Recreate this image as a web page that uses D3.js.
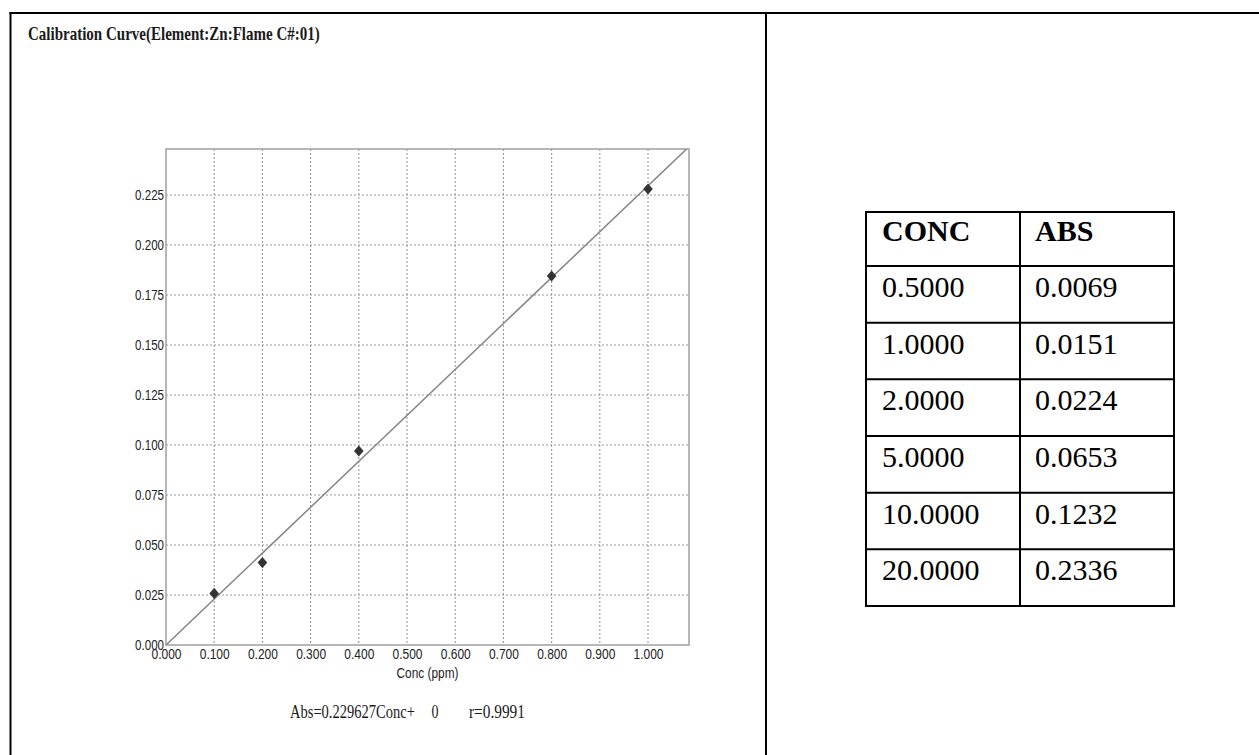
<!DOCTYPE html>
<html>
<head>
<meta charset="utf-8">
<script src="https://cdn.jsdelivr.net/npm/d3@7"></script>
<style>
html,body{margin:0;padding:0;background:#fff;}
svg{display:block;}
</style>
</head>
<body>
<svg id="chart" width="1259" height="755"></svg>
<script>
// ---- data ----
const title = "Calibration Curve(Element:Zn:Flame  C#:01)";
const pointConc = [0.1, 0.2, 0.4, 0.8, 1.0];
const pointAbs = [0.0258, 0.0412, 0.097, 0.1845, 0.228];
const slope = 0.229627;
const intercept = 0;
const xTicks = [0, 0.1, 0.2, 0.3, 0.4, 0.5, 0.6, 0.7, 0.8, 0.9, 1.0];
const yTicks = [0, 0.025, 0.05, 0.075, 0.1, 0.125, 0.15, 0.175, 0.2, 0.225];
const xLabel = "Conc (ppm)";
const eqLeft = "Abs=0.229627Conc+";
const eqIntercept = "0";
const eqR = "r=0.9991";
const tableHeader = ["CONC", "ABS"];
const tableConc = ["0.5000", "1.0000", "2.0000", "5.0000", "10.0000", "20.0000"];
const tableAbs = ["0.0069", "0.0151", "0.0224", "0.0653", "0.1232", "0.2336"];

// ---- layout ----
const svg = d3.select("#chart");
const plot = {left: 166, right: 689, top: 149, bottom: 645};
const x = d3.scaleLinear().domain([0, 1.085]).range([plot.left, plot.right]);
const y = d3.scaleLinear().domain([0, 0.248]).range([plot.bottom, plot.top]);
const fmt = d3.format(".3f");
const serif = "Liberation Serif, Times New Roman, serif";
const sans = "Liberation Sans, Arial, sans-serif";

// horizontally compress a text to a target width (keeps its anchor point fixed)
function squeeze(sel, width) {
  sel.each(function() {
    const t = d3.select(this);
    const w = this.getComputedTextLength();
    if (!w) return;
    const sx = width / w;
    const ax = +t.attr("x") || 0;
    const ay = +t.attr("y") || 0;
    const prev = t.attr("transform") || "";
    t.attr("transform", `${prev} translate(${ax},${ay}) scale(${sx},1) translate(${-ax},${-ay})`);
  });
}

// outer frame
svg.append("line").attr("x1", 9.5).attr("x2", 1259).attr("y1", 13).attr("y2", 13)
  .attr("stroke", "#000").attr("stroke-width", 2);
svg.append("line").attr("x1", 10.5).attr("x2", 10.5).attr("y1", 12).attr("y2", 755)
  .attr("stroke", "#000").attr("stroke-width", 2);
svg.append("line").attr("x1", 766).attr("x2", 766).attr("y1", 12).attr("y2", 755)
  .attr("stroke", "#000").attr("stroke-width", 2);

// title
svg.append("text").attr("x", 28).attr("y", 40)
  .attr("font-family", serif).attr("font-weight", "bold").attr("font-size", 18)
  .attr("fill", "#1a1a1a")
  .text(title)
  .call(squeeze, 292);

// grid
const grid = svg.append("g");
grid.selectAll("line.v").data(xTicks.slice(1)).join("line")
  .attr("x1", d => x(d)).attr("x2", d => x(d))
  .attr("y1", plot.top).attr("y2", plot.bottom)
  .attr("stroke", "#999").attr("stroke-width", 1.1).attr("stroke-dasharray", "2,2");
grid.selectAll("line.h").data(yTicks.slice(1)).join("line")
  .attr("x1", plot.left).attr("x2", plot.right)
  .attr("y1", d => y(d)).attr("y2", d => y(d))
  .attr("stroke", "#999").attr("stroke-width", 1.1).attr("stroke-dasharray", "2,2");

// plot border
svg.append("rect").attr("x", plot.left).attr("y", plot.top)
  .attr("width", plot.right - plot.left).attr("height", plot.bottom - plot.top)
  .attr("fill", "none").attr("stroke", "#a0a0a0").attr("stroke-width", 1.5);

// axes (labels only)
const yAxis = d3.axisLeft(y).tickValues(yTicks).tickFormat(fmt).tickSize(0).tickPadding(2);
const gy = svg.append("g").attr("transform", `translate(${plot.left},0)`).call(yAxis);
gy.select(".domain").remove();
gy.selectAll("text")
  .attr("font-family", sans).attr("font-size", 14).attr("fill", "#222")
  .call(squeeze, 29);

const xAxis = d3.axisBottom(x).tickValues(xTicks).tickFormat(fmt).tickSize(0).tickPadding(4);
const gx = svg.append("g").attr("transform", `translate(0,${plot.bottom})`).call(xAxis);
gx.select(".domain").remove();
gx.selectAll("text")
  .attr("font-family", sans).attr("font-size", 14).attr("fill", "#222")
  .call(squeeze, 30);

svg.append("text").attr("x", (plot.left + plot.right) / 2).attr("y", 678)
  .attr("text-anchor", "middle")
  .attr("font-family", sans).attr("font-size", 14).attr("fill", "#222")
  .text(xLabel)
  .call(squeeze, 62);

// regression line clipped to the plot area
svg.append("clipPath").attr("id", "clip").append("rect")
  .attr("x", plot.left).attr("y", plot.top)
  .attr("width", plot.right - plot.left).attr("height", plot.bottom - plot.top);
const lineX = x.domain();
svg.append("path").attr("clip-path", "url(#clip)")
  .datum(lineX)
  .attr("d", d3.line().x(d => x(d)).y(d => y(slope * d + intercept)))
  .attr("fill", "none").attr("stroke", "#858585").attr("stroke-width", 1.5);

// diamond markers
const diamond = {
  draw(ctx) {
    const w = 4.8, h = 5.6;
    ctx.moveTo(0, -h); ctx.lineTo(w, 0); ctx.lineTo(0, h); ctx.lineTo(-w, 0); ctx.closePath();
  }
};
svg.append("g").selectAll("path").data(pointConc).join("path")
  .attr("transform", (d, i) => `translate(${x(d)},${y(pointAbs[i])})`)
  .attr("d", d3.symbol().type(diamond).size(64))
  .attr("fill", "#333");

// equation
svg.append("text").attr("x", 290).attr("y", 718)
  .attr("font-family", serif).attr("font-size", 18).attr("fill", "#1a1a1a")
  .text(eqLeft)
  .call(squeeze, 125);
svg.append("text").attr("x", 435).attr("y", 718).attr("text-anchor", "middle")
  .attr("font-family", serif).attr("font-size", 18).attr("fill", "#1a1a1a")
  .text(eqIntercept)
  .call(squeeze, 7);
svg.append("text").attr("x", 469).attr("y", 718)
  .attr("font-family", serif).attr("font-size", 18).attr("fill", "#1a1a1a")
  .text(eqR)
  .call(squeeze, 56);

// ---- table ----
const tbl = {left: 866, mid: 1020, right: 1174, top: 212, header: 266, bottom: 606};
const rows = tableConc.map((c, i) => [c, tableAbs[i]]);
const rowScale = d3.scaleBand().domain(d3.range(rows.length)).range([tbl.header, tbl.bottom]);
const tg = svg.append("g");
tg.append("rect").attr("x", tbl.left).attr("y", tbl.top)
  .attr("width", tbl.right - tbl.left).attr("height", tbl.bottom - tbl.top)
  .attr("fill", "none").attr("stroke", "#000").attr("stroke-width", 2);
tg.append("line").attr("x1", tbl.mid).attr("x2", tbl.mid)
  .attr("y1", tbl.top).attr("y2", tbl.bottom).attr("stroke", "#000").attr("stroke-width", 2);
tg.selectAll("line.r").data(d3.range(rows.length)).join("line")
  .attr("x1", tbl.left).attr("x2", tbl.right)
  .attr("y1", d => rowScale(d)).attr("y2", d => rowScale(d))
  .attr("stroke", "#000").attr("stroke-width", 2);
const colX = [tbl.left + 16, tbl.mid + 15];
tableHeader.forEach((h, j) => {
  tg.append("text").attr("x", colX[j]).attr("y", tbl.top + 29)
    .attr("font-family", serif).attr("font-size", 30).attr("font-weight", "bold")
    .attr("fill", "#000").text(h);
});
rows.forEach((r, i) => {
  r.forEach((cell, j) => {
    tg.append("text").attr("x", colX[j]).attr("y", rowScale(i) + 31)
      .attr("font-family", serif).attr("font-size", 30)
      .attr("fill", "#000").text(cell);
  });
});
</script>
</body>
</html>
